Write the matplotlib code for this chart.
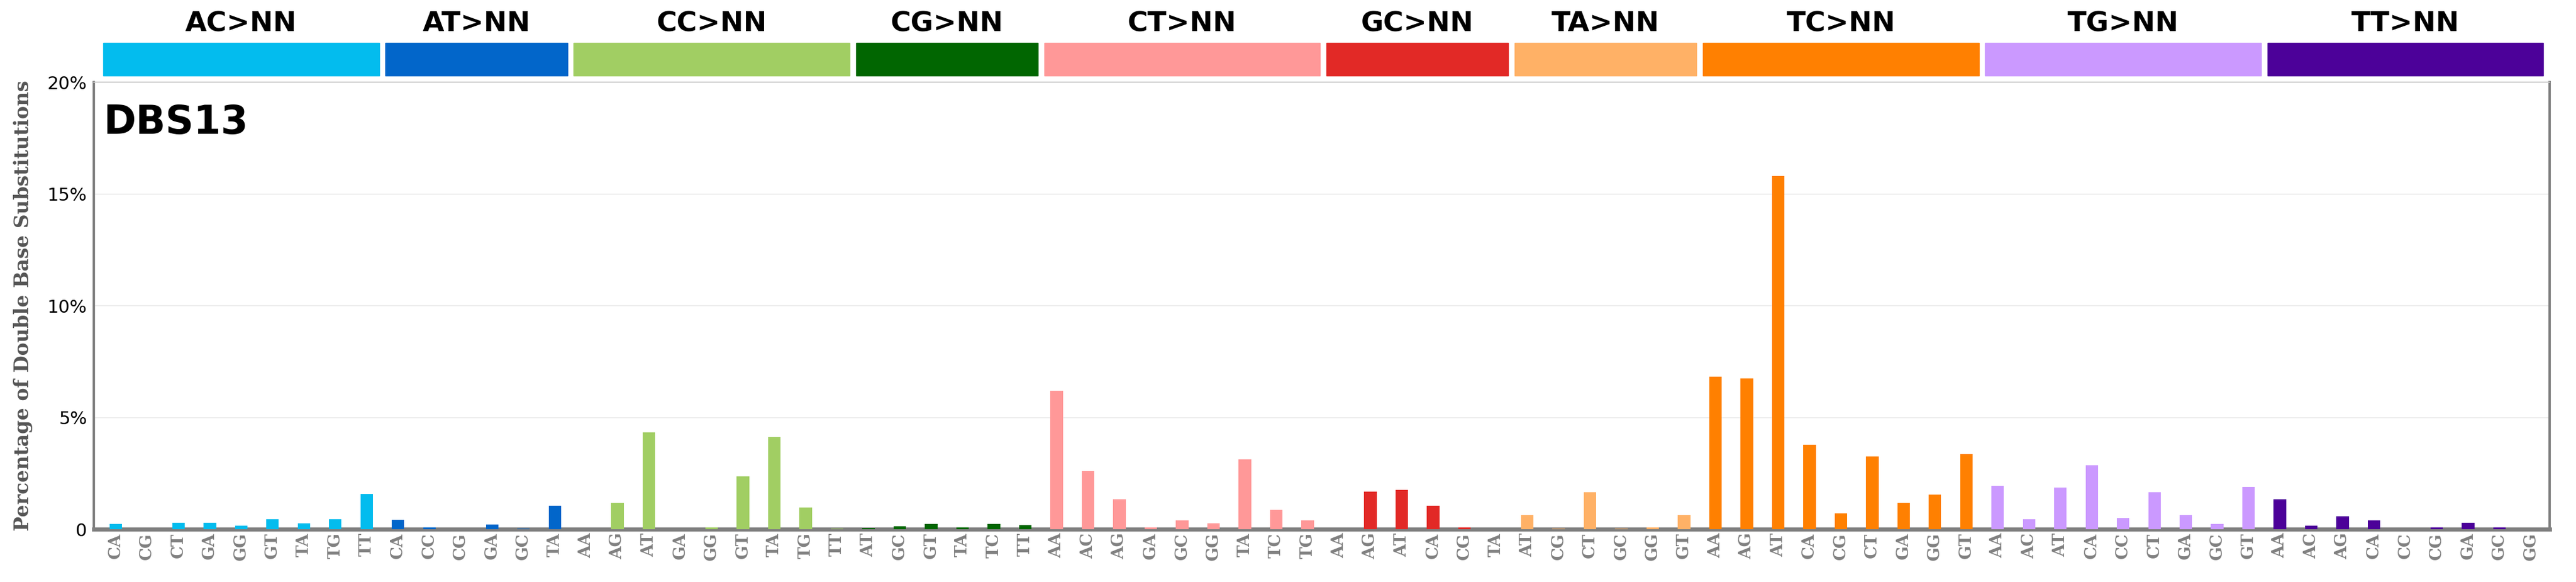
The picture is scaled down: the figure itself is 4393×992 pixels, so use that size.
import matplotlib
matplotlib.use("Agg")
import matplotlib.pyplot as plt
from matplotlib.patches import Rectangle
import numpy as np

groups = ["AC>NN", "AT>NN", "CC>NN", "CG>NN", "CT>NN", "GC>NN", "TA>NN", "TC>NN", "TG>NN", "TT>NN"]
colors = ['#03BCEE', '#0266CA', '#A1CE63', '#016601', '#FF9898', '#E22926', '#FFB166', '#FF8001', '#CB99FF', '#4C0199']
labels = [
    ["CA", "CG", "CT", "GA", "GG", "GT", "TA", "TG", "TT"],
    ["CA", "CC", "CG", "GA", "GC", "TA"],
    ["AA", "AG", "AT", "GA", "GG", "GT", "TA", "TG", "TT"],
    ["AT", "GC", "GT", "TA", "TC", "TT"],
    ["AA", "AC", "AG", "GA", "GC", "GG", "TA", "TC", "TG"],
    ["AA", "AG", "AT", "CA", "CG", "TA"],
    ["AT", "CG", "CT", "GC", "GG", "GT"],
    ["AA", "AG", "AT", "CA", "CG", "CT", "GA", "GG", "GT"],
    ["AA", "AC", "AT", "CA", "CC", "CT", "GA", "GC", "GT"],
    ["AA", "AC", "AG", "CA", "CC", "CG", "GA", "GC", "GG"],
]
values = [
    [0.24, 0.0, 0.29, 0.29, 0.16, 0.45, 0.26, 0.45, 1.57],
    [0.42, 0.10, 0.0, 0.21, 0.03, 1.05],
    [0.0, 1.18, 4.35, 0.0, 0.08, 2.36, 4.14, 0.97, 0.03],
    [0.05, 0.13, 0.24, 0.08, 0.24, 0.18],
    [6.19, 2.60, 1.34, 0.10, 0.39, 0.26, 3.12, 0.87, 0.39],
    [0.0, 1.70, 1.76, 1.05, 0.10, 0.0],
    [0.63, 0.03, 1.65, 0.03, 0.08, 0.63],
    [6.82, 6.74, 15.8, 3.78, 0.73, 3.25, 1.18, 1.55, 3.36],
    [1.94, 0.45, 1.86, 2.88, 0.52, 1.65, 0.63, 0.24, 1.91],
    [1.34, 0.16, 0.58, 0.39, 0.0, 0.10, 0.29, 0.08, 0.0],
]
yticks = [0, 5, 10, 15, 20]
yticklabels = ["0", "5%", "10%", "15%", "20%"]

fig = plt.figure(figsize=(43.93, 9.92), dpi=100)
ax = fig.add_axes([0.0364, 0.0904, 0.9534, 0.7684])

x = 0
all_labels = []
spans = []
for g, (labs, vals, col) in enumerate(zip(labels, values, colors)):
    xs = np.arange(x, x + len(vals))
    ax.bar(xs, vals, width=0.4, color=col, zorder=3)
    spans.append((x, x + len(vals) - 1))
    all_labels += labs
    x += len(vals)

ax.set_xlim(-0.7, 77.6)
ax.set_ylim(0, 20)
ax.set_yticks(yticks)
ax.set_yticklabels(yticklabels, fontsize=22)
ax.set_xticks(np.arange(len(all_labels)))
ax.set_xticklabels(all_labels, rotation=90, fontsize=20, family='serif', fontweight='bold', color='grey')
ax.tick_params(axis='x', length=0, pad=4)
ax.tick_params(axis='y', length=0, pad=8)
for y in yticks[1:-1]:
    ax.axhline(y, color='#EEEEEE', lw=1.5, zorder=1)
for s in ax.spines.values():
    s.set_color('grey')
    s.set_linewidth(3)
ax.spines['bottom'].set_linewidth(5)
ax.spines['top'].set_color('#CCCCCC')
ax.spines['top'].set_linewidth(1.5)

ax.set_ylabel("Percentage of Double Base Substitutions", fontsize=24, family='serif',
              fontweight='bold', color='#555555', labelpad=18)
ax.text(0.004, 0.91, "DBS13", transform=ax.transAxes, fontsize=48, fontweight='bold', va='center')

for (a, b), col, name in zip(spans, colors, groups):
    ax.add_patch(Rectangle((a - 0.4, 20.3), (b - a) + 0.8, 1.45, color=col, clip_on=False,
                           transform=ax.transData))
    ax.text((a + b) / 2, 22.6, name, ha='center', va='center', fontsize=34, fontweight='bold')

fig.savefig("out.png", dpi=100)
